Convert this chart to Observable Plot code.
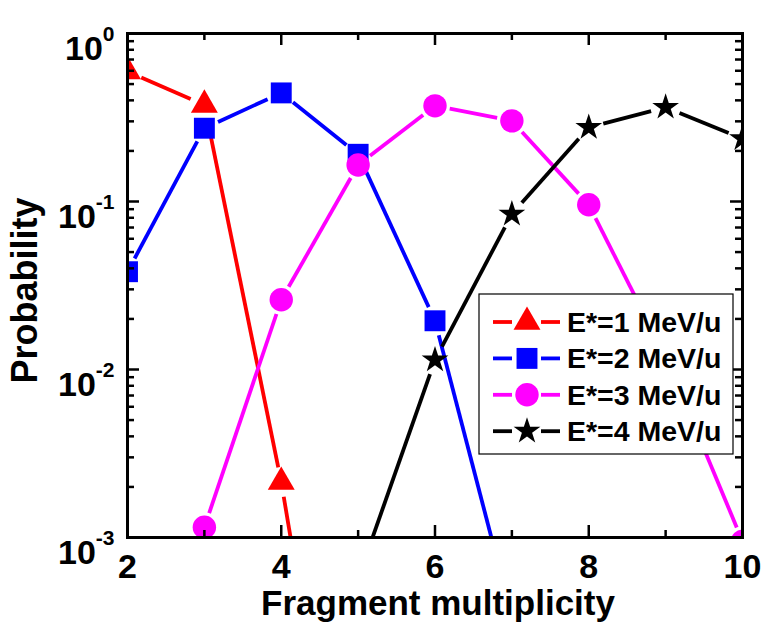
<!DOCTYPE html>
<html>
<head>
<meta charset="utf-8">
<script src="https://cdn.jsdelivr.net/npm/d3@7"></script>
<script src="https://cdn.jsdelivr.net/npm/@observablehq/plot@0.6"></script>
<style>
  html, body { margin: 0; padding: 0; background: white; }
  #chart { width: 767px; height: 624px; }
</style>
</head>
<body>
<div id="chart"></div>
<script>
// ---- data ----
const multiplicity = [2, 3, 4, 5, 6, 7, 8, 9, 10];
const seriesNames = ["E*=1 MeV/u", "E*=2 MeV/u", "E*=3 MeV/u", "E*=4 MeV/u"];
const probE1 = [0.594, 0.376, 0.00214, 0.000004, null, null, null, null, null];
const probE2 = [0.0382, 0.273, 0.443, 0.191, 0.0195, 0.00034, null, null, null];
const probE3 = [null, 0.00115, 0.026, 0.165, 0.371, 0.302, 0.0957, 0.0119, 0.00095];
const probE4 = [null, null, null, 0.00057, 0.0114, 0.0842, 0.276, 0.364, 0.237];
const xMajorTicks = [2, 4, 6, 8, 10];
const xMinorTicks = [3, 5, 7, 9];
const yMajorTicks = [0.001, 0.01, 0.1, 1];
const yMinorMantissas = [2, 3, 4, 5, 6, 7, 8, 9];
const xTitle = "Fragment multiplicity";
const yTitle = "Probability";

// ---- styles ----
const styles = [
  {color: "#ff0000", symbol: "triangle", r: 10.0},
  {color: "#0000ff", symbol: "square", r: 11.8},
  {color: "#ff00ff", symbol: "circle", r: 11.7},
  {color: "#000000", symbol: "star", r: 8.4}
];
const FONT = "'Liberation Sans', Arial, Helvetica, sans-serif";
const W = 767, H = 624, ML = 127, MR = 25, MT = 33, MB = 87;
const PW = W - ML - MR, PH = H - MT - MB;
const MAJ = 12, MIN = 7;
const TICK_FS = 34;
const LINE_W = 3.8;

const allSeries = [probE1, probE2, probE3, probE4];
const yMinorTicks = [];
for (const base of [0.001, 0.01, 0.1]) for (const m of yMinorMantissas) yMinorTicks.push(+(m * base).toPrecision(3));

const seriesMarks = [];
allSeries.forEach((vals, si) => {
  const st = styles[si];
  const pts = [];
  vals.forEach((v, i) => { if (v != null) pts.push({x: multiplicity[i], y: v}); });
  const segs = [];
  for (let i = 0; i + 1 < pts.length; i++) segs.push({x1: pts[i].x, y1: pts[i].y, x2: pts[i + 1].x, y2: pts[i + 1].y});
  seriesMarks.push(Plot.arrow(segs, {x1: "x1", y1: "y1", x2: "x2", y2: "y2", stroke: st.color, strokeWidth: LINE_W,
    headLength: 0, inset: 15, strokeLinecap: "butt", clip: true}));
  seriesMarks.push(Plot.dot(pts, {x: "x", y: "y", symbol: st.symbol, r: st.r, fill: st.color, stroke: "none", clip: true}));
});

const chart = Plot.plot({
  width: W, height: H,
  marginLeft: ML, marginRight: MR, marginTop: MT, marginBottom: MB,
  style: {fontFamily: FONT, fontSize: TICK_FS + "px", fontWeight: "bold", background: "white", color: "black"},
  x: {domain: [2, 10], ticks: xMajorTicks, tickSize: 0, tickPadding: 16, tickFormat: d => String(d), label: null},
  y: {type: "log", domain: [0.001, 1], ticks: yMajorTicks, tickSize: 0, tickPadding: 13,
      tickFormat: d => "10^" + Math.round(Math.log10(d)), label: null},
  marks: [
    ...seriesMarks,
    // inward ticks: bottom & top
    Plot.tickX(xMajorTicks, {x: d => d, insetTop: PH - MAJ, stroke: "black", strokeWidth: 2.5}),
    Plot.tickX(xMinorTicks, {x: d => d, insetTop: PH - MIN, stroke: "black", strokeWidth: 2.5}),
    Plot.tickX(xMajorTicks, {x: d => d, insetBottom: PH - MAJ, stroke: "black", strokeWidth: 2.5}),
    Plot.tickX(xMinorTicks, {x: d => d, insetBottom: PH - MIN, stroke: "black", strokeWidth: 2.5}),
    // inward ticks: left & right
    Plot.tickY(yMajorTicks, {y: d => d, insetRight: PW - MAJ, stroke: "black", strokeWidth: 2.5}),
    Plot.tickY(yMinorTicks, {y: d => d, insetRight: PW - MIN, stroke: "black", strokeWidth: 2.5}),
    Plot.tickY(yMajorTicks, {y: d => d, insetLeft: PW - MAJ, stroke: "black", strokeWidth: 2.5}),
    Plot.tickY(yMinorTicks, {y: d => d, insetLeft: PW - MIN, stroke: "black", strokeWidth: 2.5}),
    Plot.frame({stroke: "black", strokeWidth: 3}),
    Plot.text([xTitle], {frameAnchor: "bottom", textAnchor: "middle", lineAnchor: "middle", dy: 66, dx: 3,
      fontSize: 35, fontWeight: "bold", fill: "black"}),
    Plot.text([yTitle], {frameAnchor: "left", textAnchor: "middle", lineAnchor: "middle", dx: -102, dy: 5, rotate: -90,
      fontSize: 36, fontWeight: "bold", fill: "black"})
  ]
});
document.getElementById("chart").appendChild(chart);

// superscript exponents on y tick labels
const svg = d3.select(chart.tagName.toLowerCase() === "svg" ? chart : chart.querySelector("svg"));
svg.selectAll("text").each(function () {
  const t = this.textContent;
  const m = /^10\^(-?\d+)$/.exec(t);
  if (!m) return;
  const el = d3.select(this);
  el.text(null).attr("dy", "0.45em");
  el.append("tspan").text("10");
  el.append("tspan").attr("font-size", 21).attr("dy", -19).text(m[1]);
});

// legend (inside the plot, white box)
const lg = svg.append("g").attr("font-family", FONT).attr("font-weight", "bold").attr("text-anchor", "start");
const LX = 479, LY = 294, LWd = 254, LHt = 160;
lg.append("rect").attr("x", LX).attr("y", LY).attr("width", LWd).attr("height", LHt)
  .attr("fill", "white").attr("stroke", "black").attr("stroke-width", 1.2);
const symMap = {triangle: d3.symbolTriangle, square: d3.symbolSquare, circle: d3.symbolCircle, star: d3.symbolStar};
seriesNames.forEach((name, i) => {
  const st = styles[i];
  const cy = 322 + i * 36.4;
  lg.append("line").attr("x1", 493).attr("x2", 512).attr("y1", cy).attr("y2", cy).attr("stroke", st.color).attr("stroke-width", LINE_W);
  lg.append("line").attr("x1", 541).attr("x2", 560).attr("y1", cy).attr("y2", cy).attr("stroke", st.color).attr("stroke-width", LINE_W);
  lg.append("path").attr("transform", `translate(527,${cy})`)
    .attr("d", d3.symbol(symMap[st.symbol], Math.PI * st.r * st.r)()).attr("fill", st.color);
  lg.append("text").attr("x", 567).attr("y", cy + 10).attr("font-size", 28.5).attr("fill", "black")
    .attr("text-anchor", "start").text(name);
});
</script>
</body>
</html>
